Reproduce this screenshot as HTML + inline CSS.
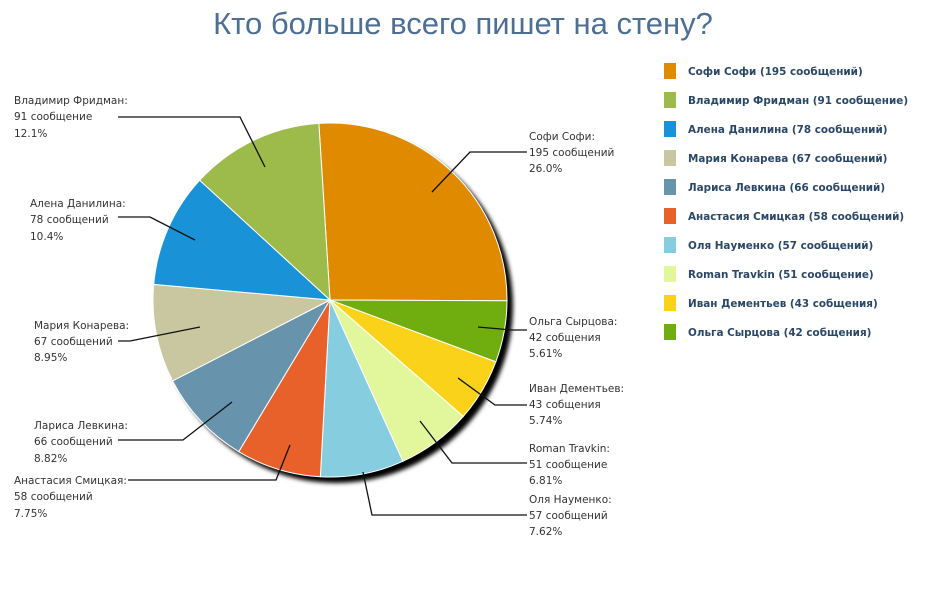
<!DOCTYPE html>
<html><head><meta charset="utf-8"><style>
body{margin:0;background:#fff;width:928px;height:604px;overflow:hidden}
svg text{font-family:"DejaVu Sans",Verdana,sans-serif}
</style></head><body>
<svg id="s" width="928" height="604" xmlns="http://www.w3.org/2000/svg">
<defs><filter id="b" x="-20%" y="-20%" width="140%" height="140%"><feGaussianBlur stdDeviation="2"/></filter></defs>
<text x="463" y="34" text-anchor="middle" font-size="31" fill="#4d6f92" style="font-family:'Liberation Sans',sans-serif">Кто больше всего пишет на стену?</text>
<circle cx="336" cy="306" r="177" fill="#000" filter="url(#b)"/>
<g id="pie"></g>
<g stroke="#111" stroke-width="1.3" fill="none">
<polyline points="432,192 470,152 527,152"/>
<polyline points="265,167 240,117 118,117"/>
<polyline points="195,240 150,217 118,217"/>
<polyline points="200,327 130,341 118,341"/>
<polyline points="232,402 183,440 118,440"/>
<polyline points="290,445 276,480 128,480"/>
<polyline points="363,472 372,515 527,515"/>
<polyline points="420,421 452,463 527,463"/>
<polyline points="458,378 495,405 527,405"/>
<polyline points="478,327 512,330 527,330"/>
</g>
<g font-size="10.5" fill="#333">
<text x="529" y="140">Софи Софи:</text><text x="529" y="156">195 сообщений</text><text x="529" y="172">26.0%</text>
<text x="529" y="325">Ольга Сырцова:</text><text x="529" y="341">42 собщения</text><text x="529" y="357">5.61%</text>
<text x="529" y="392">Иван Дементьев:</text><text x="529" y="408">43 собщения</text><text x="529" y="424">5.74%</text>
<text x="529" y="452">Roman Travkin:</text><text x="529" y="468">51 сообщение</text><text x="529" y="484">6.81%</text>
<text x="529" y="503">Оля Науменко:</text><text x="529" y="519">57 сообщений</text><text x="529" y="535">7.62%</text>
<text x="14" y="104">Владимир Фридман:</text><text x="14" y="120">91 сообщение</text><text x="14" y="137">12.1%</text>
<text x="30" y="207">Алена Данилина:</text><text x="30" y="223">78 сообщений</text><text x="30" y="240">10.4%</text>
<text x="34" y="329">Мария Конарева:</text><text x="34" y="345">67 сообщений</text><text x="34" y="361">8.95%</text>
<text x="34" y="429">Лариса Левкина:</text><text x="34" y="445">66 сообщений</text><text x="34" y="462">8.82%</text>
<text x="14" y="484">Анастасия Смицкая:</text><text x="14" y="500">58 сообщений</text><text x="14" y="517">7.75%</text>
</g>
<g id="leg" font-size="10.4" font-weight="bold" fill="#2a4766">
<text x="688" y="75">Софи Софи (195 сообщений)</text>
<text x="688" y="104">Владимир Фридман (91 сообщение)</text>
<text x="688" y="133">Алена Данилина (78 сообщений)</text>
<text x="688" y="162">Мария Конарева (67 сообщений)</text>
<text x="688" y="191">Лариса Левкина (66 сообщений)</text>
<text x="688" y="220">Анастасия Смицкая (58 сообщений)</text>
<text x="688" y="249">Оля Науменко (57 сообщений)</text>
<text x="688" y="278">Roman Travkin (51 сообщение)</text>
<text x="688" y="307">Иван Дементьев (43 собщения)</text>
<text x="688" y="336">Ольга Сырцова (42 собщения)</text>
</g>
</svg>
<script>
var ns="http://www.w3.org/2000/svg";
var order=[[195,"#e08a00"],[42,"#70ad0e"],[43,"#fad21a"],[51,"#e2f79c"],[57,"#86cedf"],[58,"#e8602a"],[66,"#6893ad"],[67,"#c8c7a0"],[78,"#1a92d8"],[91,"#9dbb4a"]];
var cx=330,cy=300,r=177,a=-0.063,T=748,g=document.getElementById("pie");
order.forEach(function(o){var a2=a+o[0]/T*2*Math.PI;
var x1=cx+r*Math.sin(a),y1=cy-r*Math.cos(a),x2=cx+r*Math.sin(a2),y2=cy-r*Math.cos(a2);
var p=document.createElementNS(ns,"path");
p.setAttribute("d","M"+cx+","+cy+"L"+x1+","+y1+"A"+r+","+r+" 0 "+(a2-a>Math.PI?1:0)+" 1 "+x2+","+y2+"Z");
p.setAttribute("fill",o[1]);p.setAttribute("stroke","#fff");p.setAttribute("stroke-width","1");g.appendChild(p);a=a2;});
var leg=document.getElementById("leg"),cols=["#e08a00","#9dbb4a","#1a92d8","#c8c7a0","#6893ad","#e8602a","#86cedf","#e2f79c","#fad21a","#70ad0e"];
cols.forEach(function(c,i){var rc=document.createElementNS(ns,"rect");rc.setAttribute("x",664);rc.setAttribute("y",63+29*i);rc.setAttribute("width",12);rc.setAttribute("height",16);rc.setAttribute("fill",c);leg.appendChild(rc);});
</script>
</body></html>
